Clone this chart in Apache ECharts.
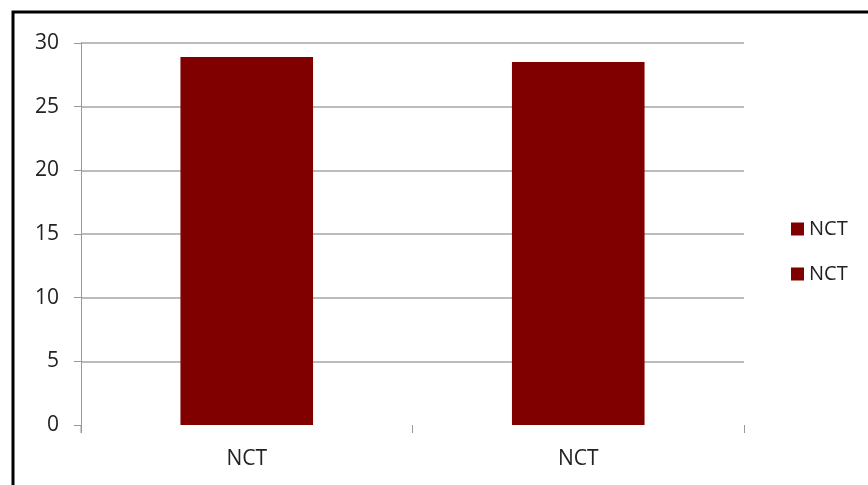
<!DOCTYPE html>
<html><head><meta charset="utf-8">
<script src="https://cdn.jsdelivr.net/npm/echarts@6/dist/echarts.min.js"></script>
<style>html,body{margin:0;padding:0;background:#fff}#c{width:868px;height:485px}</style>
</head><body><div id="c"></div>
<script>
const categories = ['NCT', 'NCT'];
const seriesNames = ['NCT', 'NCT '];
const values = [28.9, 28.5];
const yTicks = { min: 0, max: 30, interval: 5 };

const font = '"Open Sans","Noto Sans","Liberation Sans",sans-serif';
const color = '#800000';
const chart = echarts.init(document.getElementById('c'), null, { renderer: 'canvas' });
const series = seriesNames.map((n, i) => ({
  name: n,
  type: 'bar',
  stack: 'all',
  barWidth: '40%',
  itemStyle: { color: color },
  data: values.map((v, j) => (j === i ? v : '-'))
}));
chart.setOption({
  animation: false,
  graphic: [
    { type: 'rect', shape: { x: 13, y: 12, width: 880, height: 500 }, style: { fill: 'none', stroke: '#000', lineWidth: 3 } },
    { type: 'line', shape: { x1: 81, y1: 425, x2: 81, y2: 433 }, style: { stroke: '#999', lineWidth: 1 } }
  ],
  grid: { left: 81, right: 124, top: 43, bottom: 60 },
  legend: {
    orient: 'vertical', left: 786, top: 214, icon: 'rect', itemWidth: 13, itemHeight: 13, itemGap: 25,
    textStyle: { fontFamily: font, fontSize: 20, color: '#222' },
    data: seriesNames
  },
  xAxis: {
    type: 'category', data: categories,
    axisLine: { show: false },
    axisTick: { show: true, length: 8, lineStyle: { color: '#999' } },
    axisLabel: { fontFamily: font, fontSize: 21, color: '#222', margin: 24 }
  },
  yAxis: {
    type: 'value', min: yTicks.min, max: yTicks.max, interval: yTicks.interval,
    axisLine: { show: true, lineStyle: { color: '#999' } },
    axisTick: { show: true, length: 7, lineStyle: { color: '#999' } },
    splitLine: { showMinLine: false, lineStyle: { color: '#a6a6a6', width: 1.5 } },
    axisLabel: { fontFamily: font, fontSize: 21, color: '#222', margin: 22 }
  },
  series: series
});
</script></body></html>
